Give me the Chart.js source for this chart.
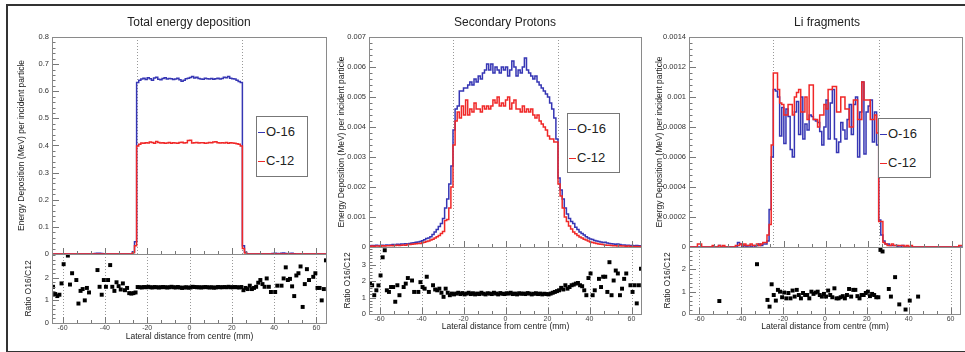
<!DOCTYPE html>
<html>
<head>
<meta charset="utf-8">
<script src="https://cdn.jsdelivr.net/npm/chart.js@4.4.1/dist/chart.umd.min.js"></script>
<style>
  body { margin: 0; background: #fff; width: 965px; height: 352px; position: relative; overflow: hidden;
         font-family: "Liberation Sans", Arial, sans-serif; }
  .frame { position: absolute; left: 6px; top: 4px; width: 970px; height: 345px; border: 2px solid #333; border-right: none; }
  canvas { position: absolute; }
  .ptitle { position: absolute; top: 15px; font-size: 12px; line-height: 14px; color: #222; transform: translateX(-50%); white-space: nowrap; }
  .leg { position: absolute; background: #fff; border: 1px solid #777; color: #222; font-size: 13px; z-index: 2; }
  .leg div { position: absolute; left: 1px; white-space: nowrap; line-height: 14px; }
  .leg span { display: inline-block; width: 7px; height: 1.5px; vertical-align: middle; margin-right: 1px; }
</style>
</head>
<body>
<div class="frame"></div>
<canvas id="p1top" width="336" height="236" style="left:0;top:28px"></canvas>
<canvas id="p1rat" width="336" height="106" style="left:0;top:246px"></canvas>
<canvas id="p2top" width="318" height="228" style="left:330px;top:28px"></canvas>
<canvas id="p2rat" width="318" height="113" style="left:330px;top:239px"></canvas>
<canvas id="p3top" width="315" height="228" style="left:650px;top:28px"></canvas>
<canvas id="p3rat" width="315" height="113" style="left:650px;top:239px"></canvas>
<div class="ptitle" style="left:189px">Total energy deposition</div>
<div class="ptitle" style="left:505px">Secondary Protons</div>
<div class="ptitle" style="left:827px">Li fragments</div>
<div class="leg" id="leg1" style="left:256px;top:116px;width:50px;height:59px"></div>
<div class="leg" id="leg2" style="left:567px;top:113px;width:51px;height:58px"></div>
<div class="leg" id="leg3" style="left:878px;top:118px;width:51px;height:58px"></div>
<script>
// 1 mm bins from -65 to 65 mm
const xMin = -65, xMax = 65;
const binCentres = Array.from({length: 130}, (_, i) => xMin + i + 0.5);
const xTicks = [-60, -40, -20, 0, 20, 40, 60];
const fieldEdges = [-25, 25];
const seriesNames = ['O-16', 'C-12'];
const seriesColours = ['#3636b4', '#f02828'];

// Total energy deposition (MeV per incident particle)
const totalO16 = [
  0,0,0,0,0,0,0,0,0,0,
  0,0,0,0,0,0,0,0,0,0,
  0.002,0.003,0.003,0.002,0.001,0,0,0,0,0,
  0,0,0,0,0,0,0,0,0.008,0.045,
  0.632,0.641,0.645,0.648,0.643,0.650,0.646,0.641,0.649,0.652,
  0.644,0.642,0.647,0.650,0.645,0.647,0.646,0.643,0.645,0.648,
  0.642,0.637,0.641,0.646,0.648,0.651,0.654,0.649,0.652,0.647,
  0.645,0.644,0.648,0.646,0.645,0.647,0.644,0.646,0.648,0.645,
  0.647,0.652,0.650,0.654,0.648,0.646,0.645,0.641,0.636,0.632,
  0.030,0.006,0,0,0,0,0,0,0,0,
  0,0,0,0,0.002,0.003,0.002,0.001,0.003,0.004,
  0.002,0.001,0.002,0.003,0.001,0,0,0,0,0,
  0,0,0,0,0,0,0,0,0,0
];
const totalC12 = [
  0,0,0,0,0,0,0,0,0,0,
  0,0,0,0,0,0,0,0,0,0,
  0,0,0,0,0,0,0,0,0,0,
  0,0,0,0,0,0,0,0,0.005,0.030,
  0.398,0.405,0.409,0.408,0.410,0.409,0.413,0.411,0.408,0.415,
  0.411,0.409,0.410,0.408,0.409,0.411,0.408,0.410,0.409,0.408,
  0.411,0.412,0.409,0.410,0.418,0.419,0.409,0.410,0.411,0.409,
  0.410,0.410,0.408,0.409,0.411,0.410,0.413,0.414,0.410,0.409,
  0.410,0.409,0.411,0.408,0.410,0.409,0.408,0.406,0.405,0.398,
  0.020,0.004,0,0,0,0,0,0,0,0,
  0,0,0,0,0,0,0,0,0,0,
  0,0,0,0,0,0,0,0,0,0,
  0,0,0,0,0,0,0,0,0,0
];
const totalRatio = [
  1.6,1.28,1.19,1.25,1.75,2.6,null,2.98,1.7,2.2,
  null,1.9,0.86,1.42,1.5,1.0,1.55,1.35,null,null,
  null,2.34,1.6,1.25,1.9,1.6,1.9,2.56,1.6,1.42,
  1.8,1.63,1.48,1.75,1.45,1.55,1.32,1.3,1.32,1.35,
  1.59,1.58,1.57,1.59,1.58,1.6,1.58,1.57,1.59,1.58,
  1.57,1.58,1.59,1.58,1.57,1.58,1.6,1.58,1.57,1.59,
  1.57,1.55,1.57,1.58,1.56,1.57,1.6,1.59,1.58,1.58,
  1.57,1.58,1.59,1.58,1.57,1.58,1.56,1.57,1.59,1.58,
  1.58,1.59,1.58,1.6,1.58,1.58,1.59,1.58,1.57,1.59,
  1.45,1.55,1.5,1.65,1.5,1.55,1.6,1.78,1.9,1.72,
  1.6,1.97,1.6,1.37,null,1.37,1.65,null,1.65,1.97,
  2.46,1.9,1.95,1.62,1.19,2.1,2.2,2.5,0.71,1.72,
  2.38,1.9,null,2.04,2.2,1.55,1.55,1.0,1.5,2.77
];

// Secondary protons
const protonO16 = [
  0.00004,0.00005,0.00004,0.00006,0.00005,0.00004,0.00006,0.00005,0.00007,0.00006,
  0.00007,0.00008,0.00007,0.00009,0.00008,0.0001,0.0001,0.00011,0.0001,0.00012,
  0.00013,0.00014,0.00016,0.00017,0.00018,0.00021,0.00024,0.00028,0.0003,0.00034,
  0.00042,0.0005,0.00058,0.00068,0.00078,0.00095,0.0013,0.0016,0.0021,0.0027,
  0.0039,0.0046,0.0047,0.0052,0.0052,0.0053,0.0053,0.0054,0.0055,0.0054,
  0.0056,0.0055,0.0057,0.0056,0.0058,0.0059,0.0061,0.0059,0.0061,0.0058,
  0.0060,0.0059,0.0058,0.0060,0.0059,0.0060,0.0057,0.0059,0.0062,0.0060,
  0.0057,0.0059,0.0058,0.0060,0.0063,0.0059,0.0058,0.0057,0.0056,0.0057,
  0.0055,0.0054,0.0053,0.0052,0.0051,0.0050,0.0048,0.0046,0.0043,0.0036,
  0.0023,0.0019,0.0016,0.0013,0.0011,0.00095,0.00085,0.00078,0.00066,0.00058,
  0.0005,0.00045,0.0004,0.00034,0.0003,0.00027,0.00025,0.00022,0.0002,0.00018,
  0.00017,0.00015,0.00016,0.00013,0.00012,0.00011,0.0001,0.00009,0.0001,0.00008,
  0.00007,0.00007,0.00006,0.00006,0.00005,0.00005,0.00004,0.00005,0.00004,0.00004
];
const protonC12 = [
  0.00002,0.00003,0.00002,0.00003,0.00003,0.00002,0.00004,0.00003,0.00004,0.00004,
  0.00005,0.00004,0.00005,0.00006,0.00005,0.00006,0.00007,0.00006,0.00008,0.00008,
  0.00009,0.0001,0.00011,0.00012,0.00012,0.00014,0.00016,0.00018,0.0002,0.00023,
  0.00026,0.0003,0.00034,0.00038,0.00045,0.00052,0.00088,0.00092,0.0013,0.002,
  0.0034,0.0042,0.0045,0.0043,0.0047,0.0044,0.0049,0.0044,0.0046,0.0045,
  0.0048,0.0046,0.0046,0.0045,0.0047,0.0046,0.0047,0.0046,0.0047,0.0049,
  0.0048,0.0050,0.0047,0.0048,0.0047,0.0049,0.0050,0.0046,0.0048,0.0049,
  0.0046,0.0046,0.0045,0.0047,0.0045,0.0046,0.0045,0.0046,0.0044,0.0043,
  0.0044,0.0042,0.0041,0.0040,0.0039,0.0037,0.0036,0.0036,0.0035,0.0035,
  0.0021,0.0017,0.0013,0.001,0.00085,0.0007,0.0006,0.0005,0.00044,0.00038,
  0.00033,0.0003,0.00026,0.00023,0.0002,0.00017,0.00015,0.00013,0.00012,0.0001,
  0.00009,0.00008,0.00007,0.00006,0.00006,0.00005,0.00004,0.00004,0.00003,0.00004,
  0.00003,0.00003,0.00002,0.00003,0.00002,0.00002,0.00002,0.00002,0.00001,0.00002
];
const protonRatio = [
  1.86,1.76,1.15,1.45,1.75,2.36,3.47,3.9,1.45,1.35,
  1.65,1.65,0.75,1.76,1.15,null,1.65,1.86,2.2,null,
  2.05,1.35,null,1.35,1.95,1.65,1.55,2.28,1.35,null,
  1.76,1.5,1.45,1.55,1.3,1.05,1.55,1.3,1.15,1.25,
  1.2,1.25,1.3,1.22,1.28,1.2,1.25,1.3,1.22,1.27,
  1.2,1.25,1.22,1.3,1.24,1.2,1.27,1.25,1.22,1.3,
  1.25,1.2,1.28,1.24,1.22,1.27,1.25,1.3,1.22,1.25,
  1.2,1.27,1.24,1.25,1.22,1.28,1.25,1.2,1.24,1.27,
  1.22,1.25,1.2,1.24,1.22,1.2,1.25,1.3,1.35,1.4,
  1.45,1.6,1.5,1.76,1.55,1.65,1.76,1.8,1.86,1.9,
  1.76,1.7,1.45,1.15,2.2,2.48,1.15,1.45,null,2.15,
  1.65,2.28,2.28,1.35,3.17,1.15,2.05,2.66,2.48,1.15,
  1.55,2.15,2.48,null,1.76,1.35,1.76,0.65,1.76,2.77
];

// Li fragments
const liO16 = [
  0,0,0,0,0,0,0,0,0,0,
  0,0,0,0,0.00001,0,0,0,0,0,
  0,0,0,0.00003,0.00002,0,0.00001,0,0.00001,0,
  0.00001,0,0.00001,0.00002,0.00001,0.00002,0.00002,0.00004,0.00025,0.0006,
  0.00105,0.00104,0.001,0.00074,0.00093,0.00069,0.00092,0.00087,0.00065,0.0006,
  0.0009,0.00097,0.00075,0.001,0.00072,0.00082,0.00078,0.00088,0.00087,0.00085,
  0.00084,0.00083,0.00077,0.00068,0.0008,0.00098,0.00072,0.00096,0.00105,0.00072,
  0.00063,0.0007,0.00083,0.00078,0.00072,0.00085,0.00095,0.00075,0.00095,0.001,
  0.0006,0.0009,0.0011,0.00062,0.0009,0.00094,0.00098,0.0007,0.0009,0.00068,
  0.00018,0.00008,0.00004,0.00002,0.00002,0.00001,0.00001,0.00001,0.00001,0,
  0,0.00001,0,0,0,0,0,0,0,0,
  0,0,0,0,0,0,0,0,0,0,
  0,0,0,0,0,0,0,0,0,0
];
const liC12 = [
  0,0,0,0,0.00002,0.00002,0,0,0,0,
  0,0.00001,0,0,0.00001,0,0.00001,0,0,0,
  0,0,0.00001,0.00001,0.00002,0.00001,0.00002,0.00001,0.00001,0.00002,
  0.00001,0.00001,0.00002,0.00001,0.00002,0.00003,0.00003,0.00008,0.00015,0.00068,
  0.00116,0.00116,0.00105,0.00096,0.00095,0.00088,0.00088,0.00095,0.00095,0.00088,
  0.001,0.00103,0.00105,0.0009,0.0009,0.001,0.00085,0.00108,0.00108,0.00085,
  0.00085,0.0008,0.00088,0.00088,0.00095,0.00092,0.00105,0.00105,0.00107,0.00107,
  0.0009,0.0009,0.001,0.001,0.00092,0.00092,0.0008,0.0008,0.00098,0.00098,
  0.00085,0.00085,0.0011,0.00098,0.00098,0.00098,0.00085,0.00085,0.00088,0.00076,
  0.00017,0.00017,0.00003,0.00002,0.00001,0.00001,0.00002,0.00001,0.00001,0.00001,
  0.00001,0.00001,0,0.00001,0,0.00001,0,0,0,0,
  0,0,0,0,0,0,0,0,0,0,
  0,0,0,0,0,0,0,0,0.00001,0.00001
];
const liRatio = [
  null,null,null,null,null,null,null,null,null,null,
  null,null,null,null,0.58,null,null,null,null,null,
  null,null,null,null,null,null,null,null,null,null,
  null,null,2.23,null,null,null,null,0.63,0.33,1.33,
  0.85,0.6,1.08,1.0,0.75,0.96,0.7,0.94,0.7,1.05,
  0.78,1.08,0.85,0.7,0.94,0.85,0.85,0.7,1.0,0.9,
  0.96,1.0,0.85,0.78,0.9,0.78,1.05,0.85,0.75,1.15,
  0.7,0.7,0.75,0.8,0.7,0.85,1.12,0.78,1.08,1.08,
  0.8,0.7,0.85,0.85,0.94,1.0,0.8,0.9,0.85,0.75,
  0.75,2.87,2.8,null,null,1.12,0.78,null,1.65,null,
  0.43,null,null,0.2,null,0.6,null,null,null,0.78,
  null,null,null,null,null,null,null,null,null,null,
  null,null,null,null,null,null,null,null,null,null
];

const yTitle = 'Energy Deposition (MeV) per incident particle';
const ratioTitle = 'Ratio O16/C12';
const xTitle = 'Lateral distance from centre (mm)';
const tickFont = { family: '"Liberation Sans", Arial, sans-serif', size: 7.5 };
const titleFont = { family: '"Liberation Sans", Arial, sans-serif', size: 8.5 };

function toPoints(arr) {
  return arr.map((v, i) => ({ x: binCentres[i], y: v })).filter(p => p.y !== null);
}

function fixSize(w, h) {
  return function (s) {
    if (w != null) s.width = w;
    if (h != null) s.height = h;
    s.paddingLeft = s.paddingRight = s.paddingTop = s.paddingBottom = 0;
  };
}

// ROOT-like frame: inward ticks, frame box, dotted vertical lines
const rootFrame = {
  id: 'rootFrame',
  beforeDatasetsDraw(chart, args, opts) {
    const { ctx, chartArea: a, scales } = chart;
    ctx.save();
    ctx.strokeStyle = '#999';
    ctx.lineWidth = 1;
    ctx.setLineDash([1, 2]);
    (opts.vlines || []).forEach(v => {
      const px = Math.round(scales.x.getPixelForValue(v)) + 0.5;
      ctx.beginPath(); ctx.moveTo(px, a.top); ctx.lineTo(px, a.bottom); ctx.stroke();
    });
    ctx.restore();
  },
  afterDraw(chart, args, opts) {
    const { ctx, chartArea: a, scales } = chart;
    ctx.save();
    ctx.strokeStyle = '#777';
    ctx.lineWidth = 1;
    const marks = (scale, nMinor) => {
      const vals = scale.ticks.map(t => t.value);
      const out = [];
      if (vals.length < 2) return out;
      const step = (vals[1] - vals[0]) / nMinor;
      for (let v = vals[0] - step * nMinor; v <= scale.max + 1e-12; v += step) {
        if (v < scale.min - 1e-12) continue;
        const major = vals.some(m => Math.abs(m - v) < step / 10);
        out.push({ px: scale.getPixelForValue(v), major });
      }
      return out;
    };
    marks(scales.x, opts.nMinorX || 3).forEach(m => {
      const px = Math.round(m.px) + 0.5, l = m.major ? 6 : 3;
      ctx.beginPath(); ctx.moveTo(px, a.bottom); ctx.lineTo(px, a.bottom - l); ctx.stroke();
    });
    marks(scales.y, opts.nMinorY || 5).forEach(m => {
      const py = Math.round(m.px) + 0.5, l = m.major ? 7 : 3.5;
      ctx.beginPath(); ctx.moveTo(a.left, py); ctx.lineTo(a.left + l, py); ctx.stroke();
    });
    ctx.strokeStyle = '#8a8a8a';
    ctx.strokeRect(Math.round(a.left) + 0.5, Math.round(a.top) + 0.5, Math.round(a.width) - 1, Math.round(a.height));
    ctx.restore();
  }
};

function xScale(showLabels, xh) {
  return {
    type: 'linear', min: xMin, max: xMax,
    afterBuildTicks: s => { s.ticks = xTicks.map(v => ({ value: v })); },
    afterFit: fixSize(null, xh),
    grid: { display: false, drawTicks: false },
    border: { display: false },
    ticks: { display: showLabels, font: { family: tickFont.family, size: 7 }, color: '#444', padding: 1, maxRotation: 0, autoSkip: false },
    title: { display: showLabels, text: xTitle, font: { family: titleFont.family, size: 8.5 }, color: '#222', padding: 0 }
  };
}

function makeTop(id, pad, yw, o16, c12, yMax, yStep) {
  return new Chart(document.getElementById(id), {
    type: 'line',
    data: {
      datasets: [
        { label: seriesNames[0], data: toPoints(o16), borderColor: seriesColours[0], borderWidth: 1.5,
          stepped: 'middle', pointRadius: 0, fill: false, order: 1 },
        { label: seriesNames[1], data: toPoints(c12), borderColor: seriesColours[1], borderWidth: 1.5,
          stepped: 'middle', pointRadius: 0, fill: false, order: 0 }
      ]
    },
    options: {
      responsive: false, animation: false, devicePixelRatio: 1,
      layout: { padding: pad },
      plugins: { legend: { display: false }, tooltip: { enabled: false },
                 rootFrame: { vlines: fieldEdges, nMinorX: 3, nMinorY: 5 } },
      scales: {
        x: xScale(false, 0),
        y: {
          min: 0, max: yMax,
          afterFit: fixSize(yw, null),
          grid: { display: false, drawTicks: false },
          border: { display: false },
          ticks: { stepSize: yStep, font: tickFont, color: '#333', padding: 3,
                   callback: v => v === 0 ? '0' : String(+v.toFixed(6)) },
          title: { display: true, text: yTitle, font: titleFont, color: '#222', padding: 0 }
        }
      }
    },
    plugins: [rootFrame]
  });
}

function makeRatio(id, pad, yw, xh, ratio, rMax, rTicks) {
  return new Chart(document.getElementById(id), {
    type: 'line',
    data: {
      datasets: [
        { label: ratioTitle, data: toPoints(ratio), showLine: false, pointStyle: 'rect', pointRadius: 2.8,
          backgroundColor: '#000', borderColor: '#000', borderWidth: 0 }
      ]
    },
    options: {
      responsive: false, animation: false, devicePixelRatio: 1,
      layout: { padding: pad },
      plugins: { legend: { display: false }, tooltip: { enabled: false },
                 rootFrame: { vlines: xTicks, nMinorX: 3, nMinorY: 5 } },
      scales: {
        x: xScale(true, xh),
        y: {
          min: 0, max: rMax,
          afterBuildTicks: s => { s.ticks = rTicks.map(v => ({ value: v })); },
          afterFit: fixSize(yw, null),
          grid: { display: false, drawTicks: false },
          border: { display: false },
          ticks: { font: tickFont, color: '#333', padding: 3 },
          title: { display: true, text: ratioTitle, font: titleFont, color: '#222', padding: 0 }
        }
      }
    },
    plugins: [rootFrame]
  });
}

function makeLegend(id) {
  const box = document.getElementById(id);
  seriesNames.forEach((name, i) => {
    const row = document.createElement('div');
    row.style.top = (8 + i * 29) + 'px';
    row.innerHTML = '<span style="background:' + seriesColours[i] + '"></span>' + name;
    box.appendChild(row);
  });
}

makeTop('p1top', { left: 17, top: 9, right: 9, bottom: 10 }, 35, totalO16, totalC12, 0.8, 0.1);
makeRatio('p1rat', { left: 24, top: 8, right: 9, bottom: 10 }, 28, 19, totalRatio, 3.05, [0, 1, 2]);
makeTop('p2top', { left: 7, top: 9, right: 6, bottom: 9 }, 32, protonO16, protonC12, 0.007, 0.001);
makeRatio('p2rat', { left: 13, top: 8, right: 6, bottom: 20 }, 26, 18, protonRatio, 4.1, [0, 1, 2, 3]);
makeTop('p3top', { left: 5, top: 9, right: 2, bottom: 9 }, 34, liO16, liC12, 0.0014, 0.0002);
makeRatio('p3rat', { left: 13, top: 8, right: 2, bottom: 20 }, 26, 18, liRatio, 3.0, [0, 1, 2]);
makeLegend('leg1');
makeLegend('leg2');
makeLegend('leg3');
</script>
</body>
</html>
